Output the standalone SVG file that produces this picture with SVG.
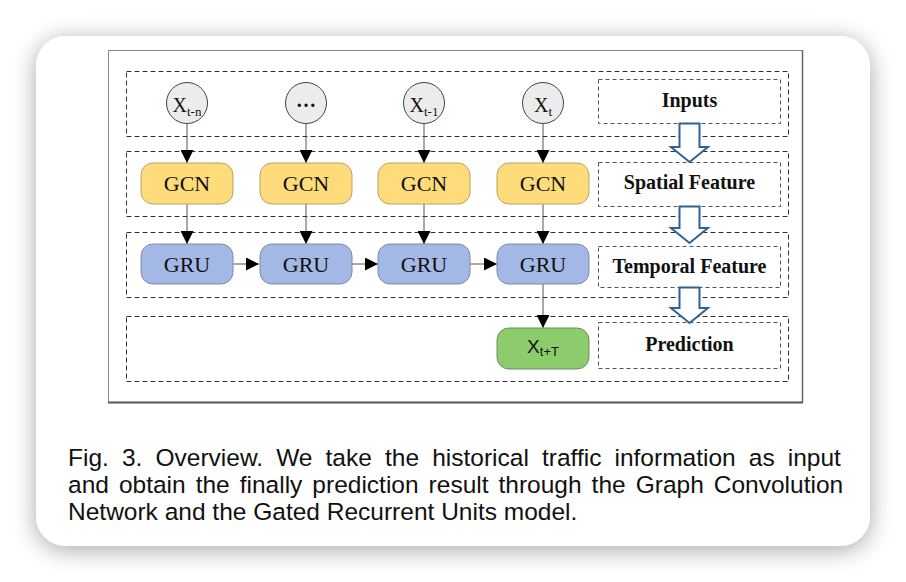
<svg xmlns="http://www.w3.org/2000/svg" width="906" height="582" viewBox="0 0 906 582">
<style>
.row{fill:none;stroke:#333;stroke-width:1;stroke-dasharray:5 3}
.lbl{fill:#fff;stroke:#555;stroke-width:1;stroke-dasharray:4 3}
.lt{font-family:"Liberation Serif","Times New Roman",serif;font-weight:bold;font-size:20px;fill:#111;text-anchor:middle}
.circ{fill:#ececec;stroke:#444;stroke-width:1}
.gcn{fill:#fedb7b;stroke:#b9a26a;stroke-width:1}
.gru{fill:#a3b8e4;stroke:#7f8aa3;stroke-width:1}
.pred{fill:#8dcc6c;stroke:#6f8f5c;stroke-width:1}
.nt{font-family:"Liberation Serif","Times New Roman",serif;font-size:22px;fill:#111;text-anchor:middle}
.xt{font-family:"Liberation Serif","Times New Roman",serif;font-size:20px;fill:#111;text-anchor:middle}
.con{stroke:#555;stroke-width:1;fill:none}
.blk{fill:#fff;stroke:#2f6395;stroke-width:2;stroke-linejoin:miter}
.cap{font-family:"Liberation Sans",Arial,sans-serif;font-size:24.5px;fill:#111}
</style>
<defs>
<filter id="sh" x="-10%" y="-10%" width="120%" height="125%">
<feGaussianBlur in="SourceAlpha" stdDeviation="12"/>
<feOffset dy="4" result="b"/>
<feComponentTransfer><feFuncA type="linear" slope="0.35"/></feComponentTransfer>
<feMerge><feMergeNode/><feMergeNode in="SourceGraphic"/></feMerge>
</filter>
<marker id="ah" viewBox="0 0 13 13" refX="13" refY="6.5" markerWidth="13" markerHeight="13" orient="auto" markerUnits="userSpaceOnUse">
<path d="M0,0 L13,6.5 L0,13 z" fill="#000"/>
</marker>
</defs>
<rect x="0" y="0" width="906" height="582" fill="#fff"/>
<rect id="card" x="36" y="36" width="834" height="510" rx="30" fill="#fff" filter="url(#sh)"/>
<g id="frame">
<rect x="108.5" y="50.5" width="694" height="352" fill="#fff" stroke="#888" stroke-width="1"/>
<line x1="108" y1="402.5" x2="803" y2="402.5" stroke="#555" stroke-width="2"/>
<line x1="802.5" y1="50" x2="802.5" y2="403" stroke="#666" stroke-width="1.5"/>
</g>
<g id="rows">
<rect class="row" x="126.5" y="71.5" width="662" height="65"/>
<rect class="row" x="126.5" y="151.5" width="662" height="65"/>
<rect class="row" x="126.5" y="232.5" width="662" height="65"/>
<rect class="row" x="126.5" y="316.5" width="662" height="65"/>
</g>
<g id="label-inputs"><rect class="lbl" x="598.5" y="79.5" width="182" height="44"/><text class="lt" x="689.5" y="107">Inputs</text></g>
<g id="label-spatial"><rect class="lbl" x="598.5" y="162.5" width="182" height="44"/><text class="lt" x="689.5" y="189">Spatial Feature</text></g>
<g id="label-temporal"><rect class="lbl" x="598.5" y="246.5" width="182" height="41"/><text class="lt" x="689.5" y="273">Temporal Feature</text></g>
<g id="label-prediction"><rect class="lbl" x="598.5" y="322.5" width="182" height="46"/><text class="lt" x="689.5" y="351">Prediction</text></g>
<g id="block-arrows">
<path class="blk" d="M679.5,123.5 L699.5,123.5 L699.5,147 L708,147 L689.5,162 L671,147 L679.5,147 Z"/>
<path class="blk" d="M679.5,206.5 L699.5,206.5 L699.5,228 L708,228 L689.5,243 L671,228 L679.5,228 Z"/>
<path class="blk" d="M679.5,287.5 L699.5,287.5 L699.5,308 L708,308 L689.5,323 L671,308 L679.5,308 Z"/>
</g>
<g id="connectors">
<line class="con" x1="187" y1="124" x2="187" y2="163" marker-end="url(#ah)"/>
<line class="con" x1="306" y1="124" x2="306" y2="163" marker-end="url(#ah)"/>
<line class="con" x1="424" y1="124" x2="424" y2="163" marker-end="url(#ah)"/>
<line class="con" x1="543" y1="124" x2="543" y2="163" marker-end="url(#ah)"/>
<line class="con" x1="187" y1="204" x2="187" y2="244" marker-end="url(#ah)"/>
<line class="con" x1="306" y1="204" x2="306" y2="244" marker-end="url(#ah)"/>
<line class="con" x1="424" y1="204" x2="424" y2="244" marker-end="url(#ah)"/>
<line class="con" x1="543" y1="204" x2="543" y2="244" marker-end="url(#ah)"/>
<line class="con" x1="233" y1="264" x2="259" y2="264" marker-end="url(#ah)"/>
<line class="con" x1="352" y1="264" x2="378" y2="264" marker-end="url(#ah)"/>
<line class="con" x1="470" y1="264" x2="497" y2="264" marker-end="url(#ah)"/>
<line class="con" x1="543" y1="284" x2="543" y2="328" marker-end="url(#ah)"/>
</g>
<g id="in-tn"><circle class="circ" cx="187" cy="103" r="20.5"/><text class="xt" x="187" y="112">X<tspan font-size="13" dy="4">t-n</tspan></text></g>
<g id="in-dots"><circle class="circ" cx="306" cy="103" r="20.5"/><text class="xt" x="306" y="107" font-weight="bold">…</text></g>
<g id="in-t1"><circle class="circ" cx="424" cy="103" r="20.5"/><text class="xt" x="424" y="112">X<tspan font-size="13" dy="4">t-1</tspan></text></g>
<g id="in-t"><circle class="circ" cx="543" cy="103" r="20.5"/><text class="xt" x="543" y="112">X<tspan font-size="13" dy="4">t</tspan></text></g>
<g id="gcn1"><rect class="gcn" x="141" y="163" width="92" height="41" rx="12"/><text class="nt" x="187" y="191">GCN</text></g>
<g id="gcn2"><rect class="gcn" x="260" y="163" width="92" height="41" rx="12"/><text class="nt" x="306" y="191">GCN</text></g>
<g id="gcn3"><rect class="gcn" x="378" y="163" width="92" height="41" rx="12"/><text class="nt" x="424" y="191">GCN</text></g>
<g id="gcn4"><rect class="gcn" x="497" y="163" width="92" height="41" rx="12"/><text class="nt" x="543" y="191">GCN</text></g>
<g id="gru1"><rect class="gru" x="141" y="244" width="92" height="40" rx="12"/><text class="nt" x="187" y="272">GRU</text></g>
<g id="gru2"><rect class="gru" x="260" y="244" width="92" height="40" rx="12"/><text class="nt" x="306" y="272">GRU</text></g>
<g id="gru3"><rect class="gru" x="378" y="244" width="92" height="40" rx="12"/><text class="nt" x="424" y="272">GRU</text></g>
<g id="gru4"><rect class="gru" x="497" y="244" width="92" height="40" rx="12"/><text class="nt" x="543" y="272">GRU</text></g>
<g id="pred"><rect class="pred" x="497" y="328" width="92" height="41" rx="12"/><text x="543" y="353" font-family="Liberation Sans,Arial,sans-serif" font-size="19" fill="#111" text-anchor="middle">X<tspan font-size="13" dy="3">t+T</tspan></text></g>
<g id="caption">
<text class="cap" x="68" y="466" word-spacing="6.3">Fig. 3. Overview. We take the historical traffic information as input</text>
<text class="cap" x="68" y="493" word-spacing="3.2">and obtain the finally prediction result through the Graph Convolution</text>
<text class="cap" x="68" y="520">Network and the Gated Recurrent Units model.</text>
</g>
</svg>
